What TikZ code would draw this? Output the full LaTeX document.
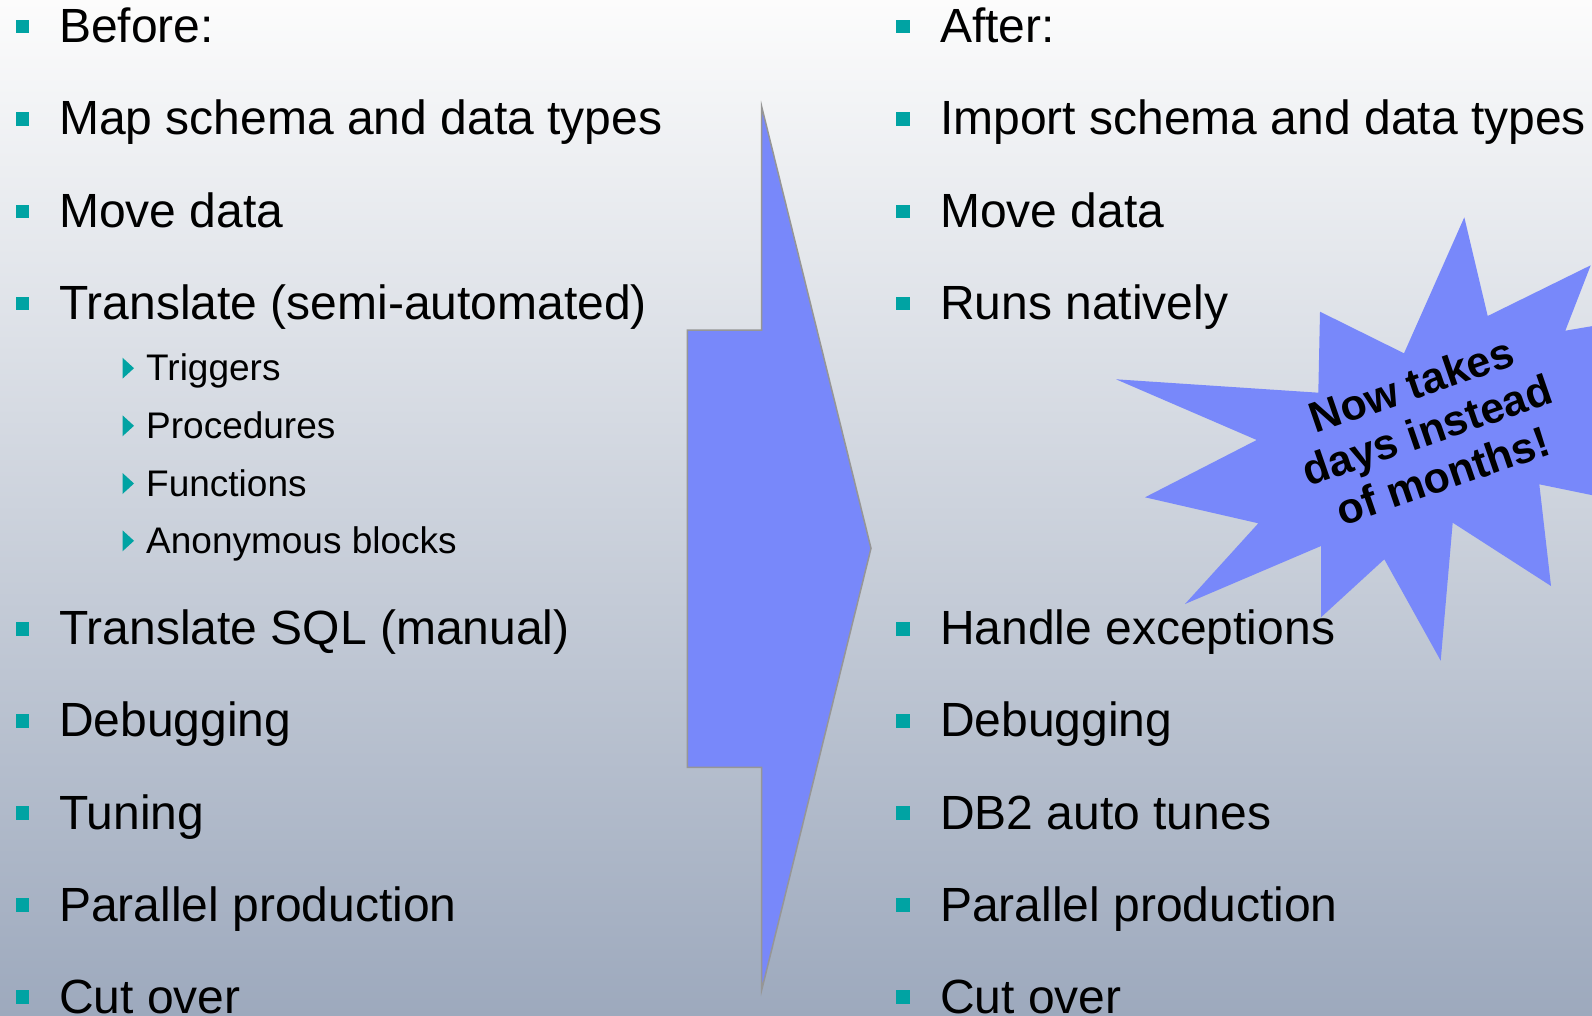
\documentclass[tikz,border=0pt]{standalone}
\usepackage{fontspec}
\setmainfont{Liberation Sans}
\definecolor{bgtop}{RGB}{252,252,252}
\definecolor{bgmid}{RGB}{212,216,224}
\definecolor{bgbot}{RGB}{157,169,189}
\definecolor{burst}{RGB}{120,136,250}
\definecolor{bullet}{RGB}{0,163,163}
\definecolor{edge}{RGB}{150,150,150}
\begin{document}
\begin{tikzpicture}[x=1pt,y=-1pt,
  main/.style={anchor=base west, inner sep=0pt, font=\fontsize{48}{57}\selectfont},
  subitem/.style={anchor=base west, inner sep=0pt, font=\fontsize{37}{44}\selectfont},
  sqbullet/.style={fill=bullet, draw=none, minimum size=13.5pt, inner sep=0pt, rectangle},
  tribullet/.style={fill=bullet, draw=none},
  note/.style={font=\bfseries\fontsize{43}{48}\selectfont, align=center, inner sep=0pt, rotate=19}
]
% page and background
\useasboundingbox (0,0) rectangle (1592,1016);
\clip (0,0) rectangle (1592,1016);
\shade[top color=bgtop, middle color=bgmid, bottom color=bgbot] (0,0) rectangle (1592,1016);

% transition arrow
\filldraw[fill=burst, draw=edge, line width=1.5pt, line join=miter]
  (761.7,106.7) -- (871,548.3) -- (761.7,990) -- (761.7,767.3)
  -- (687.3,767.3) -- (687.3,330) -- (761.7,330) -- cycle;

% explosion callout
\fill[burst]
  (1464.3,217.3) -- (1487.7,316) -- (1590.7,265.3) -- (1565.3,330.7)
  -- (1640,318) -- (1640,505) -- (1539.3,484.3)
  -- (1551,586) -- (1452.7,522.7) -- (1440.7,660.7) -- (1384.3,559.3)
  -- (1321,617.3) -- (1321,546) -- (1185,604) -- (1258.3,523.3)
  -- (1145,497.3) -- (1256.7,440) -- (1116,379.3) -- (1318.3,392.7)
  -- (1320,311.7) -- (1404,353.3) -- cycle;
\node[note] (burstnote) at (1427,430) {Now takes\\days instead\\of months!};

% before column
\foreach \y/\t [count=\i] in {42.7/Before:, 135/Map schema and data types,
    227.3/Move data, 319.6/Translate (semi-automated),
    644.8/Translate SQL (manual), 736.9/Debugging, 829/Tuning,
    921.1/Parallel production, 1013.2/Cut over}{
  \node[sqbullet] (lb\i) at (22.5,\y-16) {};
  \node[main] (lt\i) at (59,\y) {\t};
}
\foreach \y/\t [count=\i] in {380.7/Triggers, 438.3/Procedures,
    496/Functions, 553.3/Anonymous blocks}{
  \fill[tribullet] (122.5,\y-23) -- (134,\y-12.5) -- (122.5,\y-2) -- cycle;
  \node[subitem] (st\i) at (146,\y) {\t};
}

% after column
\foreach \y/\t [count=\i] in {42.7/After:, 135/Import schema and data types,
    227.3/Move data, 319.6/Runs natively,
    644.8/Handle exceptions, 736.9/Debugging, 829/DB2 auto tunes,
    921.1/Parallel production, 1013.2/Cut over}{
  \node[sqbullet] (rb\i) at (903,\y-16) {};
  \node[main] (rt\i) at (940,\y) {\t};
}
\end{tikzpicture}
\end{document}
